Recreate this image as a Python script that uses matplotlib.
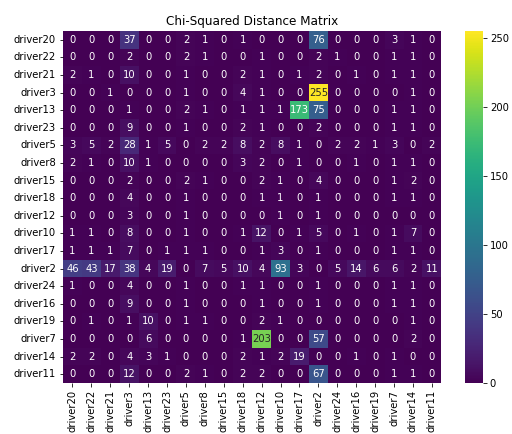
import numpy as np
import matplotlib
matplotlib.use("Agg")
import matplotlib.pyplot as plt
import seaborn as sns

drivers = ["driver20", "driver22", "driver21", "driver3", "driver13", "driver23",
           "driver5", "driver8", "driver15", "driver18", "driver12", "driver10",
           "driver17", "driver2", "driver24", "driver16", "driver19", "driver7",
           "driver14", "driver11"]

# one list per row, columns in the same order as drivers
driver20 = [0, 0, 0, 37, 0, 0, 2, 1, 0, 1, 0, 0, 0, 76, 0, 0, 0, 3, 1, 0]
driver22 = [0, 0, 0, 2, 0, 0, 2, 1, 0, 0, 1, 0, 0, 2, 1, 0, 0, 1, 1, 0]
driver21 = [2, 1, 0, 10, 0, 0, 1, 0, 0, 2, 1, 0, 1, 2, 0, 1, 0, 1, 1, 0]
driver3 = [0, 0, 1, 0, 0, 0, 1, 0, 0, 4, 1, 0, 0, 255, 0, 0, 0, 0, 1, 0]
driver13 = [0, 0, 0, 1, 0, 0, 2, 1, 0, 1, 1, 1, 173, 75, 0, 0, 0, 1, 1, 0]
driver23 = [0, 0, 0, 9, 0, 0, 1, 0, 0, 2, 1, 0, 0, 2, 0, 0, 0, 1, 1, 0]
driver5 = [3, 5, 2, 28, 1, 5, 0, 2, 2, 8, 2, 8, 1, 0, 2, 2, 1, 3, 0, 2]
driver8 = [2, 1, 0, 10, 1, 0, 0, 0, 0, 3, 2, 0, 1, 0, 0, 1, 0, 1, 1, 0]
driver15 = [0, 0, 0, 2, 0, 0, 2, 1, 0, 0, 2, 1, 0, 4, 0, 0, 0, 1, 2, 0]
driver18 = [0, 0, 0, 4, 0, 0, 1, 0, 0, 0, 1, 1, 0, 1, 0, 0, 0, 1, 1, 0]
driver12 = [0, 0, 0, 3, 0, 0, 1, 0, 0, 0, 0, 1, 0, 1, 0, 0, 0, 0, 0, 0]
driver10 = [1, 1, 0, 8, 0, 0, 1, 0, 0, 1, 12, 0, 1, 5, 0, 1, 0, 1, 7, 0]
driver17 = [1, 1, 1, 7, 0, 1, 1, 1, 0, 0, 1, 3, 0, 1, 0, 0, 0, 1, 1, 0]
driver2 = [46, 43, 17, 38, 4, 19, 0, 7, 5, 10, 4, 93, 3, 0, 5, 14, 6, 6, 2, 11]
driver24 = [1, 0, 0, 4, 0, 0, 1, 0, 0, 1, 1, 0, 0, 1, 0, 0, 0, 1, 1, 0]
driver16 = [0, 0, 0, 9, 0, 0, 1, 0, 0, 0, 1, 0, 0, 1, 0, 0, 0, 1, 1, 0]
driver19 = [0, 1, 0, 1, 10, 0, 1, 1, 0, 0, 2, 1, 0, 0, 0, 0, 0, 0, 1, 0]
driver7 = [0, 0, 0, 0, 6, 0, 0, 0, 0, 1, 203, 0, 0, 57, 0, 0, 0, 0, 2, 0]
driver14 = [2, 2, 0, 4, 3, 1, 0, 0, 0, 2, 1, 2, 19, 0, 0, 1, 0, 1, 0, 0]
driver11 = [0, 0, 0, 12, 0, 0, 2, 1, 0, 2, 2, 0, 0, 67, 0, 0, 0, 1, 1, 0]

matrix = np.array([driver20, driver22, driver21, driver3, driver13, driver23,
                   driver5, driver8, driver15, driver18, driver12, driver10,
                   driver17, driver2, driver24, driver16, driver19, driver7,
                   driver14, driver11])

# reference looks like a downscaled render, so draw at a lower dpi
fig = plt.figure(figsize=(512 / 72, 434 / 72), dpi=72)
ax = fig.add_axes([0.123, 0.1175, 0.739, 0.811])
cax = fig.add_axes([0.908, 0.1175, 0.035, 0.811])

sns.heatmap(matrix, annot=True, fmt="d", cmap="viridis",
            xticklabels=drivers, yticklabels=drivers, ax=ax, cbar_ax=cax)
ax.set_title("Chi-Squared Distance Matrix")
ax.set_xticklabels(drivers, rotation=90)
ax.set_yticklabels(drivers, rotation=0)

plt.savefig("out.png", dpi=72)
